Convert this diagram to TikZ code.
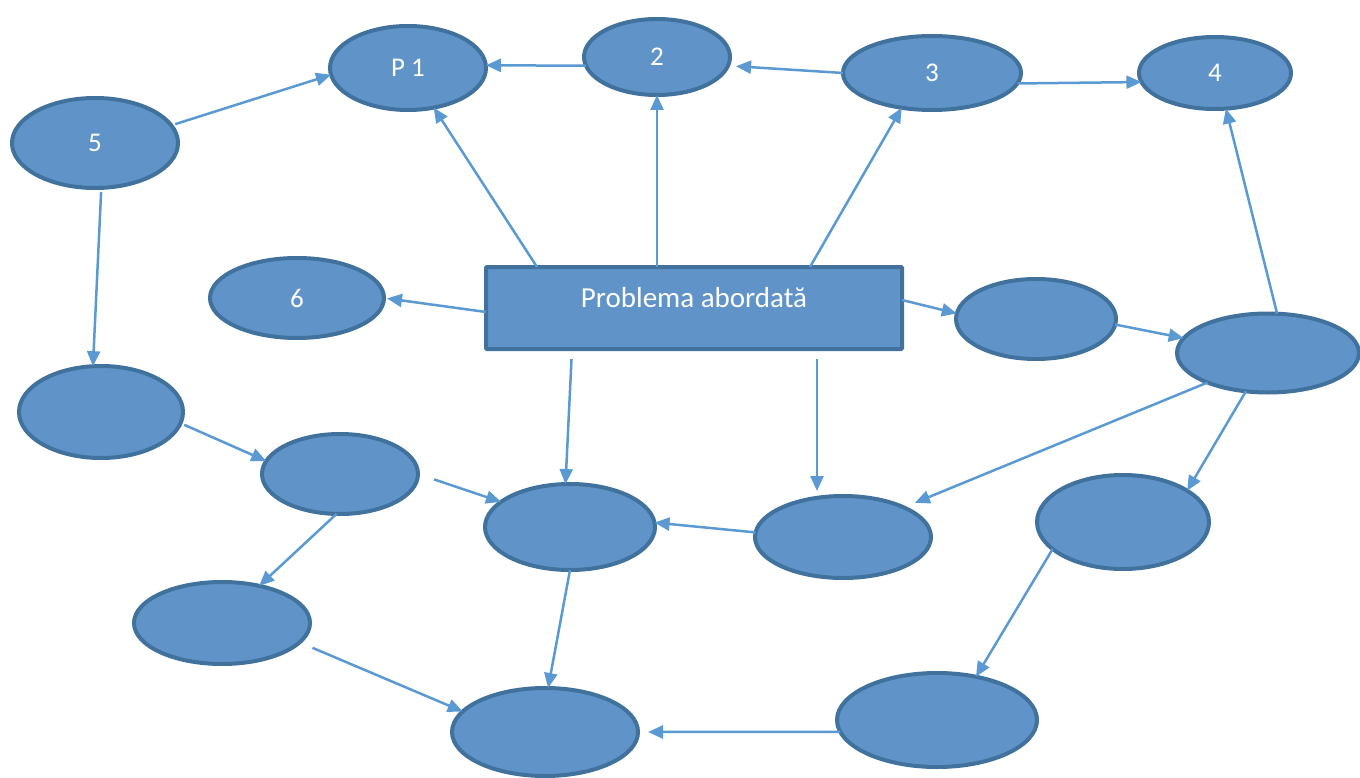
\documentclass[tikz,border=0pt]{standalone}
\usepackage{fontspec}
\setmainfont{Carlito}
\usetikzlibrary{shapes.geometric,arrows.meta}
\definecolor{myfill}{RGB}{96,148,201}
\definecolor{myborder}{RGB}{65,113,157}
\definecolor{myarrow}{RGB}{91,153,211}
\tikzset{
mindmappic/.style={
  x=1pt,y=-1pt
    ,inner sep=0pt
    ,outer sep=0pt
}
,bubble/.style={ellipse,draw=myborder,line width=4pt,fill=myfill
  ,font={\fontsize{27}{32}\selectfont\color{white}}}
,topic/.style={draw=myborder,line width=4pt,fill=myfill,rounded corners=1pt
  ,minimum width=416pt,text height=40pt,text depth=42pt
  ,align=center,font={\fontsize{29}{34}\selectfont\color{white}}}
,link/.style={draw=myarrow,line width=2.5pt,-{Triangle[length=15pt,width=13pt]}}
}

\begin{document}
\begin{tikzpicture}[mindmappic]
  \useasboundingbox (0,0) rectangle (1360,778);
  % top row
  \node[bubble,minimum width=156pt,minimum height=84pt] (p1) at (408,68) {P 1};
  \node[bubble,minimum width=146pt,minimum height=76pt] (e2) at (657,57) {2};
  \node[bubble,minimum width=178pt,minimum height=74pt] (e3) at (932,73) {3};
  \node[bubble,minimum width=152pt,minimum height=72pt] (e4) at (1215,73) {4};
  \node[bubble,minimum width=166pt,minimum height=90pt] (e5) at (95,143) {5};
  % middle row
  \node[bubble,minimum width=174pt,minimum height=80pt] (e6) at (297,298) {6};
  \node[topic] (prob) at (694,308) {Problema abordată};
  \node[bubble,minimum width=160pt,minimum height=80pt] (e7) at (1036,319) {};
  \node[bubble,minimum width=182pt,minimum height=79pt] (e8) at (1268,353) {};
  % lower rows
  \node[bubble,minimum width=164pt,minimum height=92pt] (e9) at (101,412) {};
  \node[bubble,minimum width=156pt,minimum height=80pt] (e10) at (340,474) {};
  \node[bubble,minimum width=170pt,minimum height=86pt] (e11) at (570,527) {};
  \node[bubble,minimum width=176pt,minimum height=82pt] (e12) at (843,537) {};
  \node[bubble,minimum width=172pt,minimum height=94pt] (e13) at (1123,522) {};
  \node[bubble,minimum width=176pt,minimum height=82pt] (e14) at (222,623) {};
  \node[bubble,minimum width=186pt,minimum height=88pt] (e15) at (545,732) {};
  \node[bubble,minimum width=200pt,minimum height=94pt] (e16) at (937,720) {};
  \path ([xshift=331pt]prob.south west) coordinate (r12);
  % connectors
  \draw[link,shorten <=4pt] (e5.13) -- (p1.185);
  \draw[link] (e2.187) -- (p1.2);
  \draw[link,shorten >=8pt] (e3.west) -- (e2.353);
  \draw[link] (e3.-7) -- (e4.187);
  \draw[link] ([xshift=51pt]prob.north west) -- (p1.-57);
  \draw[link] (e2.south |- prob.north) -- (e2.south);
  \draw[link] ([xshift=324pt]prob.north west) -- (e3.229);
  \draw[link,shorten >=3pt] ([yshift=-4pt]prob.west) -- (e6.east);
  \draw[link] ([yshift=8pt]prob.east) -- (e7.176);
  \draw[link] (e7.-4) -- (e8.170);
  \draw[link] (e8.77) -- (e4.-73);
  \draw[link,shorten >=12pt] (e8.206) -- (e12.26);
  \draw[link] (e8.240) -- (e13.26);
  \draw[link,shorten <=10pt] ([xshift=86pt]prob.south west) -- (e11.96);
  \draw[link,shorten <=10pt,shorten >=5pt] (r12) -- (r12 |- e12.north);
  \draw[link,shorten <=4pt] (e5.-82) -- (e9.100);
  \draw[link,shorten <=4pt] (e9.-8) -- (e10.170);
  \draw[link,shorten <=17pt] (e10.east) -- (e11.160);
  \draw[link] (e10.-95) -- (e14.45);
  \draw[link] (e12.177) -- (e11.3);
  \draw[link] (e11.south) -- (e15.86);
  \draw[link,shorten <=14pt] (e14.-14) -- (e15.166);
  \draw[link] (e13.201) -- (e16.48);
  \draw[link,shorten >=10pt] (e16.187) -- (e15.east);
\end{tikzpicture}
\end{document}
